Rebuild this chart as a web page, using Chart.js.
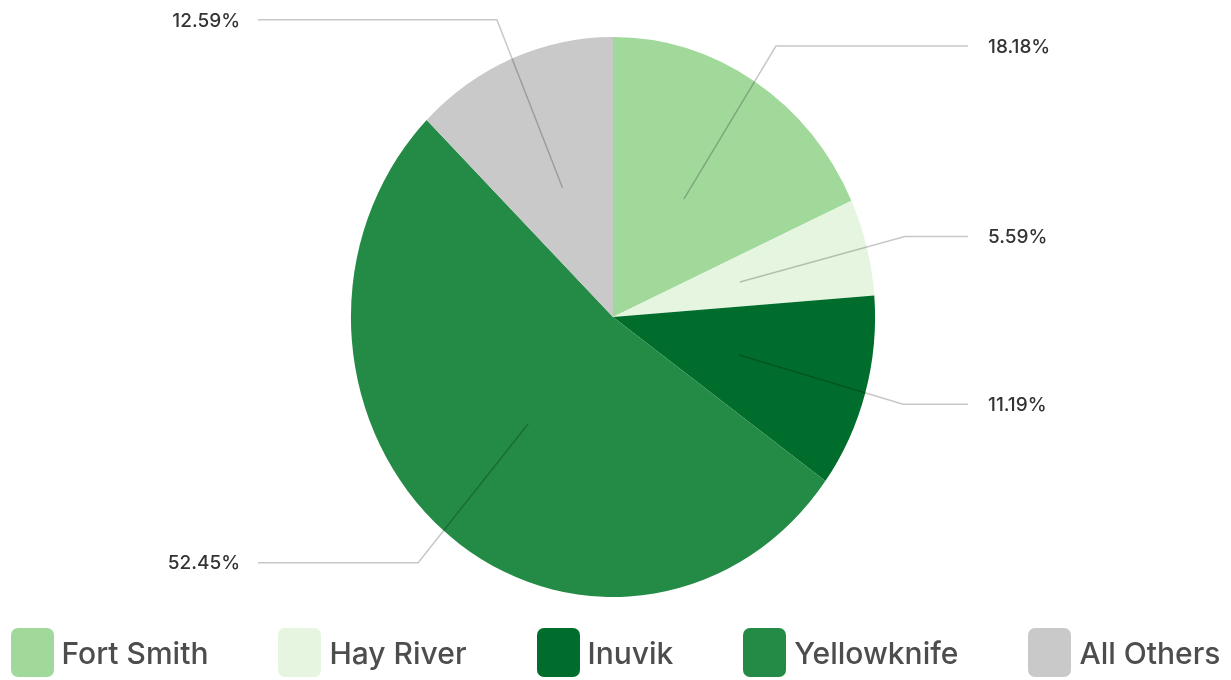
<!DOCTYPE html>
<html>
<head>
<meta charset="utf-8">
<script src="https://cdn.jsdelivr.net/npm/chart.js@4.4.1/dist/chart.umd.min.js"></script>
<style>
  html, body { margin: 0; padding: 0; background: #fff; }
  #wrap { position: relative; width: 1231px; height: 680px; }
  #legend {
    position: absolute; left: 0; top: 628px; width: 1231px;
    display: flex; justify-content: center; gap: 70px;
    font-family: Inter, Roboto, sans-serif; font-size: 30px; font-weight: 500; color: #4d4d4d;
  }
  .item { display: flex; align-items: center; height: 49px; }
  .box { width: 43px; height: 49px; border-radius: 7px; margin-right: 8px; }
</style>
</head>
<body>
<div id="wrap">
  <canvas id="pie" width="1231" height="680"></canvas>
  <div id="legend"></div>
</div>
<script>
  // data (143 in total)
  const regions = ['Fort Smith', 'Hay River', 'Inuvik', 'Yellowknife', 'All Others'];
  const counts = [26, 8, 16, 75, 18];
  const colours = ['#a1d99b', '#e5f5e0', '#006d2c', '#238b45', '#c9c9c9'];

  const total = counts.reduce((a, b) => a + b, 0);
  const squeeze = 0.936; // the pie in the picture is a little narrower than tall

  // Plugin: squash the pie sideways and add leader lines with % labels
  const leaderPlugin = {
    id: 'leaders',
    beforeDatasetsDraw(chart) {
      const arc = chart.getDatasetMeta(0).data[0];
      const ctx = chart.ctx;
      ctx.save();
      ctx.translate(arc.x, arc.y);
      ctx.scale(squeeze, 1);
      ctx.translate(-arc.x, -arc.y);
    },
    afterDatasetsDraw(chart) {
      const ctx = chart.ctx;
      ctx.restore();
      const meta = chart.getDatasetMeta(0);
      ctx.save();
      ctx.strokeStyle = 'rgba(0,0,0,0.22)';
      ctx.lineWidth = 1.5;
      ctx.font = '500 19px Inter, Roboto, sans-serif';
      ctx.fillStyle = '#333';
      ctx.textBaseline = 'middle';
      meta.data.forEach((el, i) => {
        const a = (el.startAngle + el.endAngle) / 2;
        const r = el.outerRadius;
        const x0 = el.x + squeeze * 0.5 * r * Math.cos(a);
        const y0 = el.y + 0.5 * r * Math.sin(a);
        const x1 = el.x + squeeze * 1.15 * r * Math.cos(a);
        const y1 = el.y + 1.15 * r * Math.sin(a);
        const right = Math.cos(a) > 0;
        const x2 = el.x + (right ? 355 : -355);
        ctx.beginPath();
        ctx.moveTo(x0, y0);
        ctx.lineTo(x1, y1);
        ctx.lineTo(x2, y1);
        ctx.stroke();
        const pct = (counts[i] / total * 100).toFixed(2) + '%';
        ctx.textAlign = right ? 'left' : 'right';
        ctx.fillText(pct, el.x + (right ? 375 : -373), y1 + 1);
      });
      ctx.restore();
    }
  };

  new Chart(document.getElementById('pie'), {
    type: 'pie',
    data: {
      labels: regions,
      datasets: [{
        data: counts,
        backgroundColor: colours,
        borderWidth: 0
      }]
    },
    options: {
      responsive: false,
      animation: false,
      radius: 280,
      layout: { padding: { top: 0, bottom: 46, left: 0, right: 5 } },
      plugins: {
        legend: { display: false },
        tooltip: { enabled: false }
      }
    },
    plugins: [leaderPlugin]
  });

  // legend under the pie
  const legend = document.getElementById('legend');
  regions.forEach((name, i) => {
    const item = document.createElement('div');
    item.className = 'item';
    const box = document.createElement('div');
    box.className = 'box';
    box.style.background = colours[i];
    const txt = document.createElement('span');
    txt.textContent = name;
    item.appendChild(box);
    item.appendChild(txt);
    legend.appendChild(item);
  });
</script>
</body>
</html>
